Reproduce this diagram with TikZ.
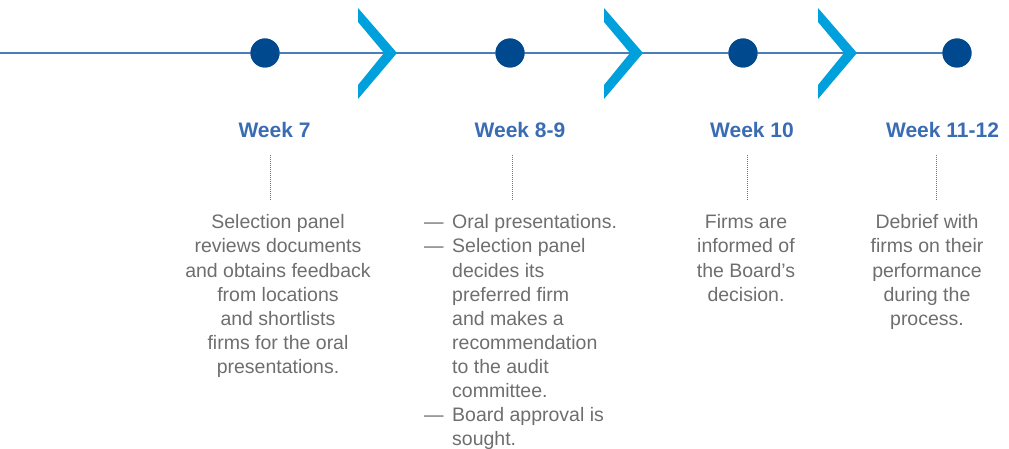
\documentclass[tikz,border=0pt]{standalone}
\usepackage{fontspec}
\setmainfont{Liberation Sans}
\usepackage{tikz}

\definecolor{lineblue}{HTML}{4A7DBA}
\definecolor{dotblue}{HTML}{00498F}
\definecolor{chevcyan}{HTML}{00A0DC}
\definecolor{headblue}{HTML}{3A6CB4}
\definecolor{bodygrey}{HTML}{6E6E6E}

\newcommand{\dashitem}{\llap{\makebox[28pt][l]{—}}}

\tikzset{
  week/.style={anchor=base,inner sep=0pt,text=headblue,font=\fontsize{21}{24}\selectfont\bfseries},
  body/.style={anchor=north,inner sep=0pt,text=bodygrey,align=center,font=\fontsize{19.5}{24.1}\selectfont},
  dotline/.style={draw=lineblue,line width=0.8pt,dash pattern=on 0.8pt off 1.2pt},
}

\begin{document}
\begin{tikzpicture}[line cap=butt,line join=miter,x=1pt,y=-1pt]
        \useasboundingbox (0,0) rectangle (1009,449);
        % timeline
        \coordinate (start) at (0,53);
        \foreach \n/\x in {1/265,2/510,3/743,4/957}
            \node[circle,fill=dotblue,minimum size=29pt,inner sep=0pt] (dot\n) at (\x,53) {};
        \draw [lineblue,line width=2pt] (start) -- (dot4.center);
        \foreach \n in {1,...,4}
            \fill [dotblue] (dot\n) circle (14.5);
        \foreach \x in {358,604,818}
            \fill [chevcyan] (\x,8) -- (\x+39,53) -- (\x,99) -- (\x,85) -- (\x+26,53) -- (\x,22) -- cycle;
        % headings
        \node[week] (w1) at (274.5,138) {Week 7};
        \node[week] (w2) at (520,138) {Week 8-9};
        \node[week] (w3) at (752,138) {Week 10};
        \node[week] (w4) at (942.5,138) {Week 11-12};
        % dotted leaders
        \foreach \n/\x in {1/270,2/512,3/747,4/936}{
            \coordinate (top\n) at (\x,155);
            \coordinate (bot\n) at (\x,200);
            \draw [dotline] (top\n) -- (bot\n);
        }
        % texts
        \node[body] (t1) at (278,214.5) {Selection panel\\reviews documents\\and obtains feedback\\from locations\\and shortlists\\firms for the oral\\presentations.};
        \node[body,anchor=north west,align=left] (t2) at (452,214.5) {\dashitem Oral presentations.\\\dashitem Selection panel\\decides its\\preferred firm\\and makes a\\recommendation\\to the audit\\committee.\\\dashitem Board approval is\\sought.};
        \node[body] (t3) at (746,214.5) {Firms are\\informed of\\the Board’s\\decision.};
        \node[body] (t4) at (927,214.5) {Debrief with\\firms on their\\performance\\during the\\process.};
\end{tikzpicture}
\end{document}
